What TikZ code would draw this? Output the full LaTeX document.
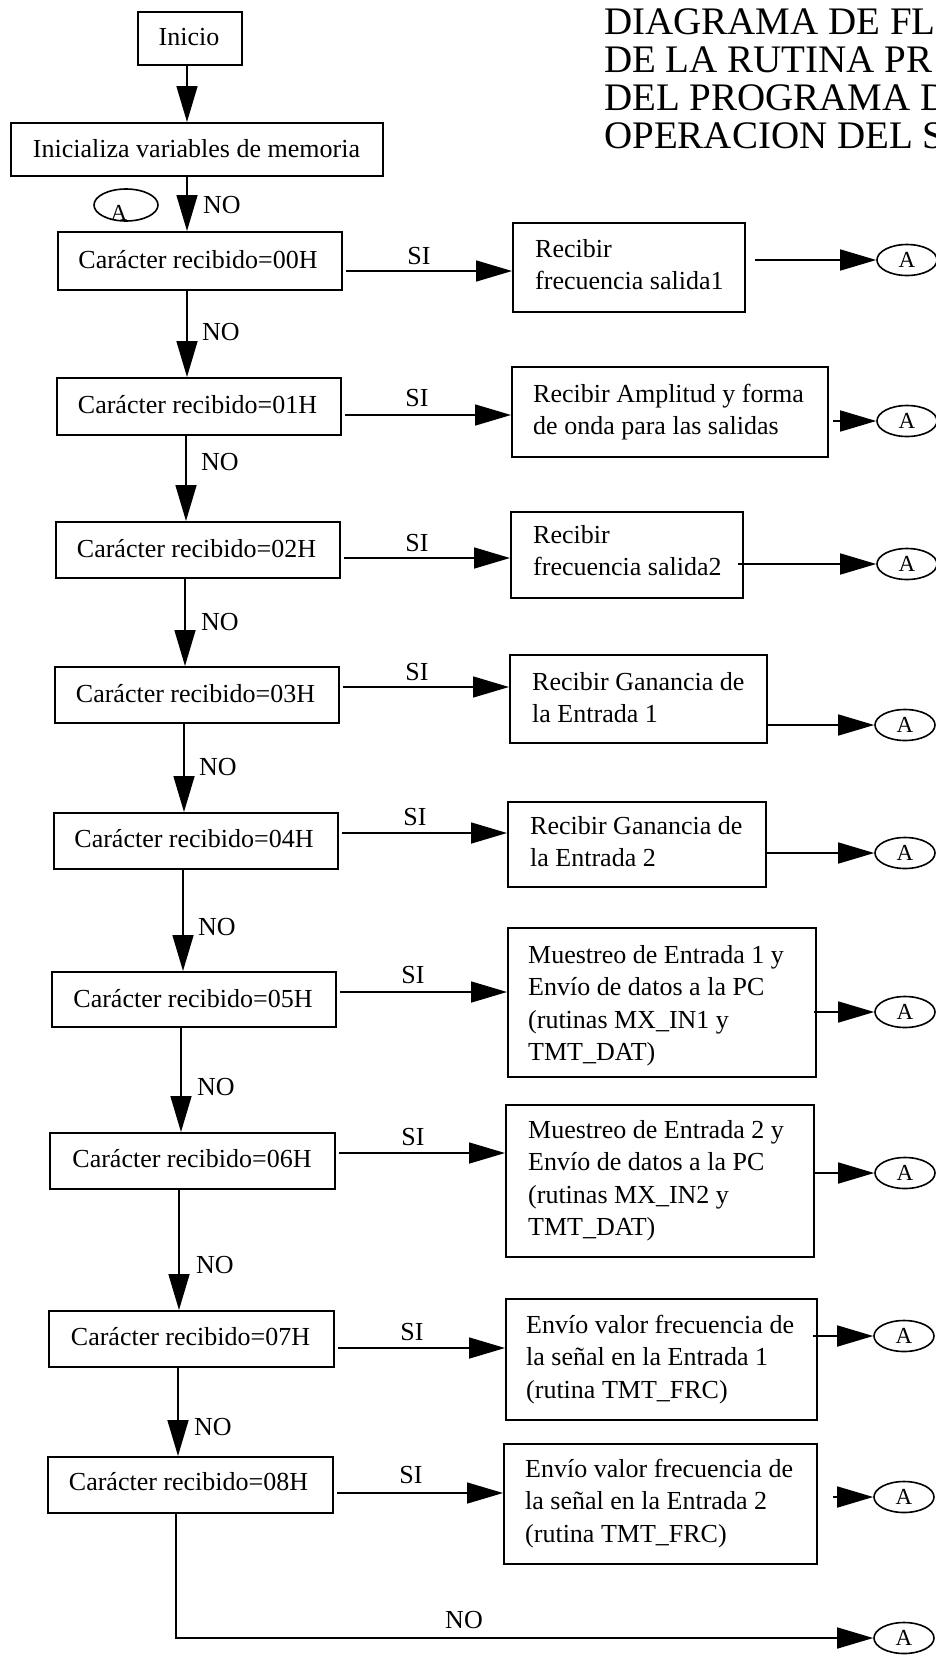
\documentclass[tikz,border=0pt]{standalone}
\usepackage{fontspec}
\setmainfont{Liberation Serif}
\usetikzlibrary{arrows.meta,shapes.geometric,calc}
\newcommand\boxlines[1]{\begin{tabular}[t]{@{}l@{}}#1\end{tabular}}

\begin{document}
\begin{tikzpicture}[x=1pt,y=-1pt,
  box/.style={draw, line width=2pt, inner sep=0pt},
  size/.style 2 args={minimum width=#1pt, minimum height=#2pt},
  txt/.style={inner sep=0pt, font=\fontsize{26}{32.5}\selectfont},
  lbl/.style={inner sep=0pt, font=\fontsize{26}{30}\selectfont},
  arr/.style={line width=1.6pt, -{Triangle[length=36pt,width=21pt]}},
  conn/.style={draw, ellipse, line width=1.6pt, minimum width=60pt,
    minimum height=31pt, inner sep=0pt, font=\fontsize{23}{23}\selectfont},
  ttl/.style={inner sep=0pt, anchor=base west, font=\fontsize{39}{39}\selectfont}
]
\useasboundingbox (0,0) rectangle (935,1655);
\fill[white] (0,0) rectangle (935,1655);

% title
\node[ttl] (t1) at (604,34)  {DIAGRAMA DE FL};
\node[ttl] (t2) at (604,72)  {DE LA RUTINA PR};
\node[ttl] (t3) at (604,110) {DEL PROGRAMA D};
\node[ttl] (t4) at (604,148) {OPERACION DEL S};

% start and initialisation
\node[box, size={104}{53}]  (ini) at (190,38.5) {};
\node[txt, anchor=base] (iniT) at (189,45) {Inicio};
\node[box, size={372}{53}]  (inz) at (197,149.5) {};
\node[txt, anchor=base] (inzT) at (196.5,157) {Inicializa variables de memoria};

% return point
\node[conn, size={64}{32}] (aTop) at (126,205) {};
\node[lbl, anchor=base, font=\fontsize{23}{23}\selectfont] (aTopT) at (119,220) {A};

% decision column
\node[box, size={284}{58}] (b0) at (200,261)    {};
\node[box, size={284}{57}] (b1) at (199,406.5)  {};
\node[box, size={284}{56}] (b2) at (198,550)    {};
\node[box, size={284}{56}] (b3) at (197,695)    {};
\node[box, size={284}{56}] (b4) at (196,841)    {};
\node[box, size={284}{55}] (b5) at (194,999.5)  {};
\node[box, size={285}{56}] (b6) at (192.5,1161) {};
\node[box, size={285}{56}] (b7) at (191.5,1339) {};
\node[box, size={285}{56}] (b8) at (190.5,1485) {};
\node[txt, anchor=base] (b0T) at (198,268)    {Carácter recibido=00H};
\node[txt, anchor=base] (b1T) at (197.5,413)  {Carácter recibido=01H};
\node[txt, anchor=base] (b2T) at (196.5,557)  {Carácter recibido=02H};
\node[txt, anchor=base] (b3T) at (195.5,702)  {Carácter recibido=03H};
\node[txt, anchor=base] (b4T) at (194,847)    {Carácter recibido=04H};
\node[txt, anchor=base] (b5T) at (193,1007)   {Carácter recibido=05H};
\node[txt, anchor=base] (b6T) at (192,1167)   {Carácter recibido=06H};
\node[txt, anchor=base] (b7T) at (190.5,1345) {Carácter recibido=07H};
\node[txt, anchor=base] (b8T) at (188.5,1490) {Carácter recibido=08H};

% action column
\node[box, size={232}{89}]  (r0) at (629,267.5)   {};
\node[box, size={316}{90}]  (r1) at (670,412)     {};
\node[box, size={232}{86}]  (r2) at (627,555)     {};
\node[box, size={257}{88}]  (r3) at (638.5,699)   {};
\node[box, size={258}{85}]  (r4) at (637,844.5)   {};
\node[box, size={308}{149}] (r5) at (662,1002.5)  {};
\node[box, size={308}{152}] (r6) at (660,1181)    {};
\node[box, size={311}{121}] (r7) at (661.5,1359.5){};
\node[box, size={313}{120}] (r8) at (660.5,1504)  {};
\node[txt, anchor=base west] (r0T) at (535,257)  {\boxlines{Recibir\\frecuencia salida1}};
\node[txt, anchor=base west] (r1T) at (533,402)  {\boxlines{Recibir Amplitud y forma\\de onda para las salidas}};
\node[txt, anchor=base west] (r2T) at (533,543)  {\boxlines{Recibir\\frecuencia salida2}};
\node[txt, anchor=base west] (r3T) at (532,690)  {\boxlines{Recibir Ganancia de\\la Entrada 1}};
\node[txt, anchor=base west] (r4T) at (530,834)  {\boxlines{Recibir Ganancia de\\la Entrada 2}};
\node[txt, anchor=base west] (r5T) at (528,963)  {\boxlines{Muestreo de Entrada 1 y\\Envío de datos a la PC\\(rutinas MX\_IN1 y\\TMT\_DAT)}};
\node[txt, anchor=base west] (r6T) at (528,1138) {\boxlines{Muestreo de Entrada 2 y\\Envío de datos a la PC\\(rutinas MX\_IN2 y\\TMT\_DAT)}};
\node[txt, anchor=base west] (r7T) at (526,1333) {\boxlines{Envío valor frecuencia de\\la señal en la Entrada 1\\(rutina TMT\_FRC)}};
\node[txt, anchor=base west] (r8T) at (525,1477) {\boxlines{Envío valor frecuencia de\\la señal en la Entrada 2\\(rutina TMT\_FRC)}};

% connectors back to A
\node[conn] (a0) at (907,260)  {A};
\node[conn] (a1) at (907,421)  {A};
\node[conn] (a2) at (907,564)  {A};
\node[conn] (a3) at (905,725)  {A};
\node[conn] (a4) at (905,853)  {A};
\node[conn] (a5) at (905,1012) {A};
\node[conn] (a6) at (905,1173) {A};
\node[conn] (a7) at (904,1336) {A};
\node[conn] (a8) at (904,1497) {A};
\node[conn] (aB) at (904,1638) {A};

% vertical flow (NO branches)
\coordinate (vi) at ([xshift=50pt]ini.south west);
\draw[arr] (vi) -- (vi |- inz.north);
\coordinate (vz) at ([xshift=177pt]inz.south west);
\draw[arr] (vz) -- (vz |- b0.north);
\coordinate (v0) at ([xshift=130pt]b0.south west);
\draw[arr] (v0) -- (v0 |- b1.north);
\coordinate (v1) at ([xshift=130pt]b1.south west);
\draw[arr] (v1) -- (v1 |- b2.north);
\coordinate (v2) at ([xshift=130pt]b2.south west);
\draw[arr] (v2) -- (v2 |- b3.north);
\coordinate (v3) at ([xshift=130pt]b3.south west);
\draw[arr] (v3) -- (v3 |- b4.north);
\coordinate (v4) at ([xshift=130pt]b4.south west);
\draw[arr] (v4) -- (v4 |- b5.north);
\coordinate (v5) at ([xshift=130pt]b5.south west);
\draw[arr] (v5) -- (v5 |- b6.north);
\coordinate (v6) at ([xshift=130pt]b6.south west);
\draw[arr] (v6) -- (v6 |- b7.north);
\coordinate (v7) at ([xshift=130pt]b7.south west);
\draw[arr] (v7) -- (v7 |- b8.north);
\coordinate (v8) at ([xshift=129pt]b8.south west);
\draw[arr] (v8) |- (aB.west);

\node[lbl] (n0) at (222,205)  {NO};
\node[lbl] (n1) at (221,332)  {NO};
\node[lbl] (n2) at (220,462)  {NO};
\node[lbl] (n3) at (220,622)  {NO};
\node[lbl] (n4) at (218,767)  {NO};
\node[lbl] (n5) at (217,927)  {NO};
\node[lbl] (n6) at (216,1087) {NO};
\node[lbl] (n7) at (215,1265) {NO};
\node[lbl] (n8) at (213,1427) {NO};
\node[lbl] (nB) at (464,1620) {NO};

% SI branches
\coordinate (i0) at (0,271);
\coordinate (i1) at (0,415);
\coordinate (i2) at (0,558);
\coordinate (i3) at (0,687);
\coordinate (i4) at (0,833);
\coordinate (i5) at (0,992);
\coordinate (i6) at (0,1153);
\coordinate (i7) at (0,1348);
\coordinate (i8) at (0,1493);
\draw[arr, shorten <=3pt] (b0.east |- i0) -- (r0.west |- i0);
\draw[arr, shorten <=3pt] (b1.east |- i1) -- (r1.west |- i1);
\draw[arr, shorten <=3pt] (b2.east |- i2) -- (r2.west |- i2);
\draw[arr, shorten <=3pt] (b3.east |- i3) -- (r3.west |- i3);
\draw[arr, shorten <=3pt] (b4.east |- i4) -- (r4.west |- i4);
\draw[arr, shorten <=3pt] (b5.east |- i5) -- (r5.west |- i5);
\draw[arr, shorten <=3pt] (b6.east |- i6) -- (r6.west |- i6);
\draw[arr, shorten <=3pt] (b7.east |- i7) -- (r7.west |- i7);
\draw[arr, shorten <=3pt] (b8.east |- i8) -- (r8.west |- i8);
\node[lbl] (s0) at (419,256)  {SI};
\node[lbl] (s1) at (417,398)  {SI};
\node[lbl] (s2) at (417,543)  {SI};
\node[lbl] (s3) at (417,672)  {SI};
\node[lbl] (s4) at (415,817)  {SI};
\node[lbl] (s5) at (413,975)  {SI};
\node[lbl] (s6) at (413,1137) {SI};
\node[lbl] (s7) at (412,1332) {SI};
\node[lbl] (s8) at (411,1475) {SI};

% back to A
\draw[arr, shorten <=9pt]  (r0.east |- a0) -- (a0.west);
\draw[arr, shorten <=4pt]  (r1.east |- a1) -- (a1.west);
\draw[arr, shorten <=-6pt] (r2.east |- a2) -- (a2.west);
\draw[arr]                 (r3.east |- a3) -- (a3.west);
\draw[arr]                 (r4.east |- a4) -- (a4.west);
\draw[arr, shorten <=-3pt] (r5.east |- a5) -- (a5.west);
\draw[arr]                 (r6.east |- a6) -- (a6.west);
\draw[arr, shorten <=-5pt] (r7.east |- a7) -- (a7.west);
\draw[arr, shorten <=15pt] (r8.east |- a8) -- (a8.west);
\end{tikzpicture}
\end{document}
